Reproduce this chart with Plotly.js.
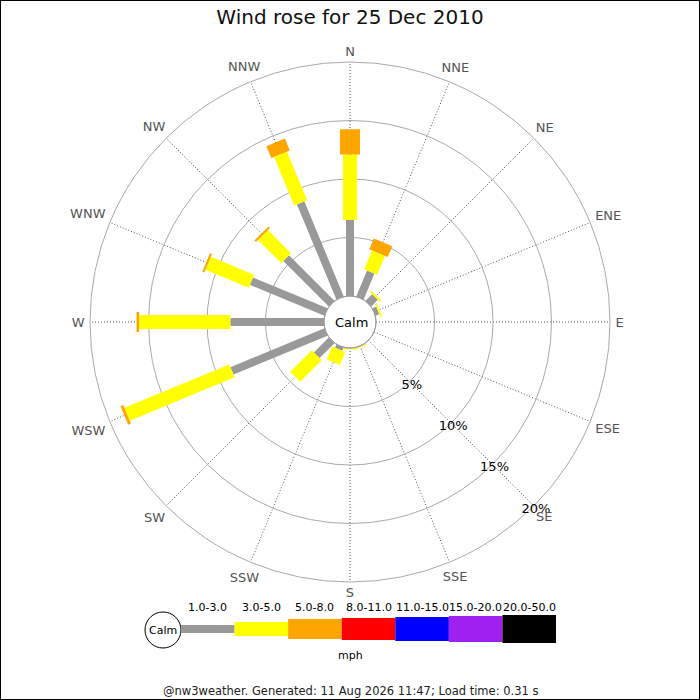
<!DOCTYPE html>
<html>
<head>
<meta charset="utf-8">
<script src="https://cdn.plot.ly/plotly-3.0.1.min.js"></script>
<style>html,body{margin:0;padding:0;background:#fff;}#chart{width:700px;height:700px;}</style>
</head>
<body>
<div id="chart"></div>
<script>
// ---- data ----
var directions = ['N','NNE','NE','ENE','E','ESE','SE','SSE','S','SSW','SW','WSW','W','WNW','NW','NNW'];
var directionAngles = [0,22.5,45,67.5,90,112.5,135,157.5,180,202.5,225,247.5,270,292.5,315,337.5];
// percentage of time per direction for each speed band (mph)
var band1to3  = [6.5, 2.4, 0.8, 0.35, 0, 0, 0, 0, 0, 0.3, 1.8, 8.7, 8.0, 6.9, 5.5, 8.8];
var band3to5  = [5.6, 1.75, 0.17, 0.15, 0, 0, 0, 0.1, 0.1, 1.2, 2.6, 9.7, 7.8, 4.0, 2.8, 4.5];
var band5to8  = [2.15, 1.0, 0, 0, 0, 0, 0, 0, 0, 0, 0, 0.25, 0.22, 0.18, 0.18, 1.1];
var bandLabels = ['1.0-3.0','3.0-5.0','5.0-8.0','8.0-11.0','11.0-15.0','15.0-20.0','20.0-50.0'];
var bandColors = ['#999999','#ffff00','#ffa500','#ff0000','#0000ff','#a020f0','#000000'];
var radialTicks = [5,10,15,20];
var radialTickText = ['5%','10%','15%','20%'];
var titleText = 'Wind rose for 25 Dec 2010';
var footerText = '@nw3weather. Generated: 11 Aug 2026 11:47; Load time: 0.31 s';

// ---- styles / geometry ----
var bandWidths = [8,14,20,22,24,26,28];
var FONT = 'DejaVu Sans, Verdana, sans-serif';
var W = 700, H = 700;
var CX = 350, CY = 322, HOLE_PX = 26, OUTER_PX = 260, LABEL_PX = 300;
var TEXT_DY = 1.5; // compensates SVG text sitting slightly high
var RMAX = 20;
var PX_PER_UNIT = (OUTER_PX - HOLE_PX) / RMAX;
// overlay subplot with the same radial scale but a larger disc, for labels
var RMAX2 = (LABEL_PX - HOLE_PX) / PX_PER_UNIT;
function px(x){return x/W;}
function py(y){return 1 - y/H;}

// measure compass label sizes so each label box sits just outside the ring
var cv = document.createElement('canvas').getContext('2d');
cv.font = '13px "DejaVu Sans"';
var LABEL_GAP = 5.5, LABEL_H = 10;
var compassR = directions.map(function(d, i){
  var w = cv.measureText(d).width || d.length * 9;
  var a = directionAngles[i] * Math.PI / 180;
  var rpx = OUTER_PX + LABEL_GAP + Math.abs(Math.sin(a)) * w / 2 + Math.abs(Math.cos(a)) * LABEL_H / 2;
  return (rpx - HOLE_PX) / PX_PER_UNIT;
});

var series = [band1to3, band3to5, band5to8];
var cum = directions.map(function(){return 0;});
var traces = [];
series.forEach(function(vals, b){
  var r = [], th = [];
  vals.forEach(function(v, i){
    if (v > 0) {
      r.push(cum[i], cum[i] + v, null);
      th.push(directionAngles[i], directionAngles[i], null);
      cum[i] += v;
    }
  });
  traces.push({
    type:'scatterpolar', subplot:'polar', mode:'lines', r:r, theta:th,
    line:{color:bandColors[b], width:bandWidths[b]},
    connectgaps:false, hoverinfo:'skip', showlegend:false
  });
});
// radial tick labels, centred just outside each ring along the SE spoke
traces.push({
  type:'scatterpolar', subplot:'polar2', mode:'text',
  r:radialTicks.map(function(v){return v + 0.25;}),
  theta:radialTicks.map(function(){return 135;}),
  text:radialTickText, textposition:'middle center',
  textfont:{family:FONT, size:13, color:'#000'},
  cliponaxis:false, hoverinfo:'skip', showlegend:false
});
// compass labels outside the outer ring
traces.push({
  type:'scatterpolar', subplot:'polar2', mode:'text',
  r:compassR, theta:directionAngles,
  text:directions, textposition:'middle center',
  textfont:{family:FONT, size:13, color:'#555'},
  cliponaxis:false, hoverinfo:'skip', showlegend:false
});

function ann(text, x, y, size, color){
  return {text:text, xref:'paper', yref:'paper', x:px(x), y:py(y), xanchor:'center', yanchor:'middle',
          showarrow:false, font:{family:FONT, size:size, color:color}};
}

var shapes = [
  {type:'rect', xref:'paper', yref:'paper', x0:0, x1:1, y0:0, y1:1, line:{color:'#000', width:2}, fillcolor:'rgba(0,0,0,0)'},
  {type:'circle', xref:'paper', yref:'paper', x0:px(CX-HOLE_PX), x1:px(CX+HOLE_PX), y0:py(CY+HOLE_PX), y1:py(CY-HOLE_PX), line:{color:'#999', width:1}, fillcolor:'rgba(0,0,0,0)'},
  {type:'circle', xref:'paper', yref:'paper', x0:px(145), x1:px(181), y0:py(648), y1:py(612), line:{color:'#000', width:1}, fillcolor:'#fff'}
];
var annotations = [
  ann('Calm', CX+1, CY, 13, '#000'),
  ann('Calm', 163, 630, 11, '#000'),
  ann('mph', 350, 655, 11, '#000'),
  ann(footerText, 350, 691, 11.5, '#222')
];
var x0 = 181, step = (556-181)/bandLabels.length;
bandLabels.forEach(function(lab, i){
  var h = bandWidths[i];
  shapes.push({type:'rect', xref:'paper', yref:'paper', x0:px(x0+i*step), x1:px(x0+(i+1)*step), y0:py(629+h/2), y1:py(629-h/2), line:{width:0}, fillcolor:bandColors[i]});
  annotations.push(ann(lab, x0+(i+0.5)*step, 607, 11, '#000'));
});

var hiddenAngular = {rotation:90, direction:'clockwise', thetaunit:'degrees', showgrid:false, showline:false, showticklabels:false, ticks:''};
var CY2 = CY + TEXT_DY;
var layout = {
  width:W, height:H, margin:{l:0,r:0,t:0,b:0},
  paper_bgcolor:'#fff', showlegend:false,
  title:{text:titleText, x:0.5, xanchor:'center', y:py(17), yanchor:'middle', yref:'paper', font:{family:FONT, size:20, color:'#111'}},
  polar:{
    domain:{x:[px(CX-OUTER_PX), px(CX+OUTER_PX)], y:[py(CY+OUTER_PX), py(CY-OUTER_PX)]},
    bgcolor:'#fff', hole:HOLE_PX/OUTER_PX,
    angularaxis:{
      rotation:90, direction:'clockwise', thetaunit:'degrees',
      tickmode:'array', tickvals:directionAngles, showticklabels:false,
      ticks:'', showgrid:true, gridcolor:'#555', gridwidth:1, griddash:'1px,2px',
      showline:true, linecolor:'#aaa', linewidth:1
    },
    radialaxis:{
      range:[0,RMAX], tickmode:'array', tickvals:radialTicks, showticklabels:false,
      ticks:'', showline:false, gridcolor:'#aaa', gridwidth:1, angle:-45
    }
  },
  polar2:{
    domain:{x:[px(CX-LABEL_PX), px(CX+LABEL_PX)], y:[py(CY2+LABEL_PX), py(CY2-LABEL_PX)]},
    bgcolor:'rgba(0,0,0,0)', hole:HOLE_PX/LABEL_PX,
    angularaxis:hiddenAngular,
    radialaxis:{range:[0,RMAX2], showgrid:false, showline:false, showticklabels:false, ticks:''}
  },
  shapes:shapes, annotations:annotations
};
Plotly.newPlot('chart', traces, layout, {staticPlot:true, displayModeBar:false});
</script>
</body>
</html>
